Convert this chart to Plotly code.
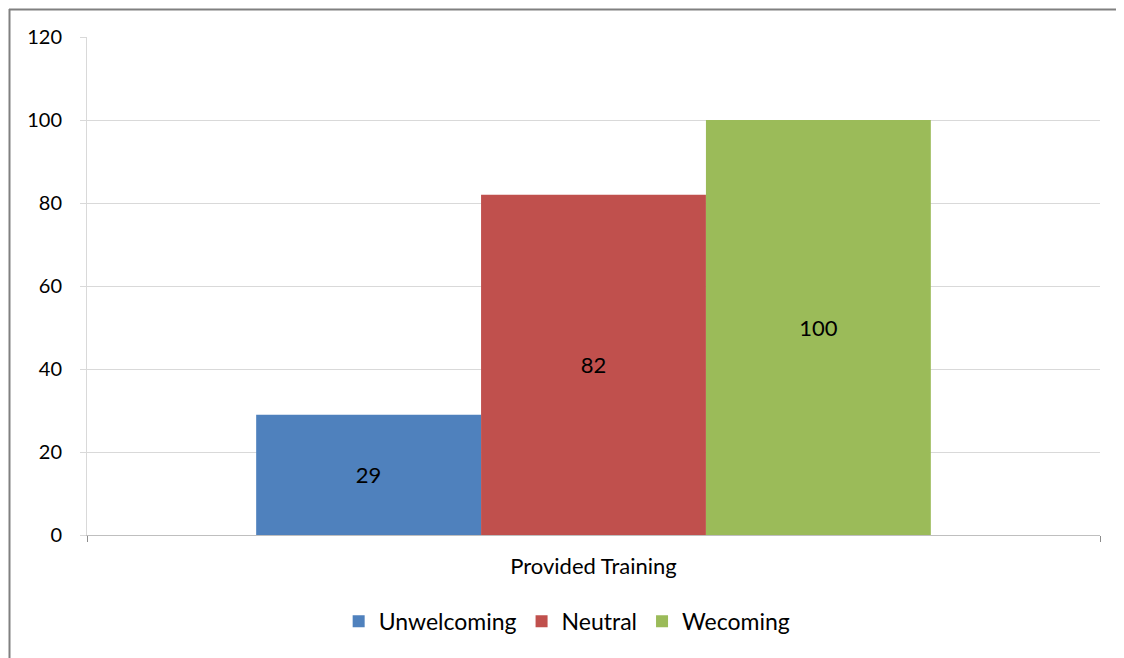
import plotly.graph_objects as go

categories = ["Provided Training"]
series_names = ["Unwelcoming", "Neutral", "Wecoming"]
series_values = [[29], [82], [100]]
series_colors = ["#4f81bd", "#c0504d", "#9bbb59"]

# page has an 8px body offset; figure covers 8..1124 x 8..658
OFF = 8
W, H = 1124 - OFF, 658 - OFF
L, R, T, B = 87 - OFF, 24, 37 - OFF, 123

fig = go.Figure()
for name, vals, col in zip(series_names, series_values, series_colors):
    fig.add_trace(go.Bar(
        x=categories, y=vals, name=name,
        marker=dict(color=col, line=dict(width=0)),
        text=[str(v) for v in vals], textposition="inside",
        insidetextanchor="middle",
        textfont=dict(color="#000000", size=22, family="Lato, Open Sans, sans-serif"),
    ))

pw = W - L - R
ph = H - T - B
def px_to_paper_x(px):
    return (px - OFF - L) / pw
def px_to_paper_y(py):
    return (H - B - (py - OFF)) / ph

fig.update_layout(
    width=W, height=H,
    margin=dict(l=L, r=R, t=T, b=B),
    paper_bgcolor="white", plot_bgcolor="white",
    barmode="group", bargap=0.334, bargroupgap=0,
    font=dict(family="Lato, Open Sans, sans-serif", size=20, color="#000000"),
    showlegend=True,
    legend=dict(orientation="h", x=0.474, xanchor="center", y=-0.13, yanchor="top",
                font=dict(size=23), itemwidth=30, traceorder="normal"),
    xaxis=dict(showline=True, linecolor="#bfbfbf", linewidth=1,
               ticks="outside", tickson="boundaries", ticklen=6, tickcolor="#8c8c8c",
               tickfont=dict(size=22), showgrid=False, ticklabelstandoff=12),
    yaxis=dict(range=[0, 120], dtick=20, showgrid=True, gridcolor="#d9d9d9", gridwidth=1,
               showline=True, linecolor="#d9d9d9", ticks="outside", ticklen=6,
               tickcolor="#d9d9d9", tickfont=dict(size=20), zeroline=False,
               ticklabelstandoff=14),
    shapes=[
        dict(type="line", xref="paper", yref="paper",
             x0=px_to_paper_x(9), x1=px_to_paper_x(1124),
             y0=px_to_paper_y(9.5), y1=px_to_paper_y(9.5),
             line=dict(color="#808080", width=2)),
        dict(type="line", xref="paper", yref="paper",
             x0=px_to_paper_x(9.5), x1=px_to_paper_x(9.5),
             y0=px_to_paper_y(9), y1=px_to_paper_y(658),
             line=dict(color="#808080", width=2)),
    ],
)

fig.write_html("out.html")
